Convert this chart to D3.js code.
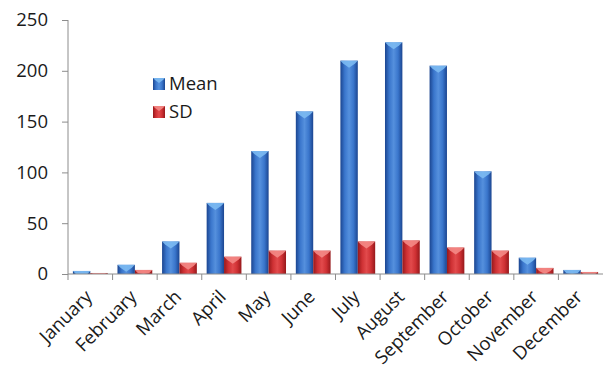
<!DOCTYPE html>
<html>
<head>
<meta charset="utf-8">
<script src="https://cdn.jsdelivr.net/npm/d3@7"></script>
<style>
  html, body { margin: 0; padding: 0; background: #fff; }
  svg { display: block; }
  text { font-family: "Open Sans", "Noto Sans", sans-serif; fill: #1a1a1a; }
</style>
</head>
<body>
<svg id="chart" width="605" height="370"></svg>
<script>
// Monthly mean and standard deviation
const months = ["January", "February", "March", "April", "May", "June",
                "July", "August", "September", "October", "November", "December"];
const meanValues = [3, 9, 32, 70, 121, 160, 210, 228, 205, 101, 16, 4];
const sdValues = [1, 4, 11, 17, 23, 23, 32, 33, 26, 23, 6, 2];
const seriesNames = ["Mean", "SD"];
const yTicks = [0, 50, 100, 150, 200, 250];

const svg = d3.select("#chart");
const margin = { left: 68, right: 2, top: 20, bottom: 96 };
const W = 605, H = 370;

const x = d3.scaleBand().domain(months)
  .range([margin.left, W - margin.right])
  .paddingInner(0.22).paddingOuter(0.11);
const xBand = d3.scaleBand().domain(months).range([margin.left, W - margin.right]);
const xSub = d3.scaleBand().domain(seriesNames).range([0, x.bandwidth()]);
const y = d3.scaleLinear().domain([0, 250]).range([H - margin.bottom, margin.top]);

// Gradients for a bevelled, cylindrical look
const defs = svg.append("defs");
const palettes = {
  Mean: { edge: "#1b4590", mid: "#3a76cc", light: "#5590dd", cap: "#7cbaf2" },
  SD:   { edge: "#96181b", mid: "#cf3134", light: "#e24a4c", cap: "#f48a86" }
};
Object.entries(palettes).forEach(([name, c]) => {
  const g = defs.append("linearGradient").attr("id", "grad-" + name)
    .attr("x1", "0").attr("x2", "1").attr("y1", "0").attr("y2", "0");
  g.append("stop").attr("offset", "0%").attr("stop-color", c.edge);
  g.append("stop").attr("offset", "25%").attr("stop-color", c.mid);
  g.append("stop").attr("offset", "50%").attr("stop-color", c.light);
  g.append("stop").attr("offset", "75%").attr("stop-color", c.mid);
  g.append("stop").attr("offset", "100%").attr("stop-color", c.edge);
});

const rows = months.map((m, i) => ({ month: m, Mean: meanValues[i], SD: sdValues[i] }));

function drawBar(sel, name, x0, w, v) {
  const top = y(v), bottom = y(0);
  const h = bottom - top;
  sel.append("rect").attr("x", x0).attr("y", top).attr("width", w).attr("height", h)
    .attr("fill", "url(#grad-" + name + ")");
  const capH = Math.min(7, h);
  const side = Math.min(3, h);
  const pts = [[x0, top], [x0 + w, top], [x0 + w - 3, top + side], [x0 + w / 2, top + capH], [x0 + 3, top + side]];
  sel.append("polygon").attr("points", pts.map(p => p.join(",")).join(" "))
    .attr("fill", palettes[name].cap).attr("opacity", 0.9);
}

const barsG = svg.append("g");
rows.forEach(r => {
  seriesNames.forEach(s => {
    drawBar(barsG, s, x(r.month) + xSub(s), xSub.bandwidth(), r[s]);
  });
});

// Axes
const axisColor = "#8c8c8c";
const yAxis = svg.append("g").attr("transform", `translate(${margin.left},0)`)
  .call(d3.axisLeft(y).tickValues(yTicks).tickSize(6).tickPadding(14));
yAxis.select(".domain").attr("stroke", axisColor).attr("d", `M0,${y(250)}V${y(0)}`);
yAxis.selectAll(".tick line").attr("stroke", axisColor);
yAxis.selectAll(".tick text").attr("font-size", 18.5).attr("fill", "#1a1a1a")
  .attr("font-family", "'Open Sans', sans-serif");

const xAxisG = svg.append("g").attr("transform", `translate(0,${y(0)})`);
xAxisG.append("line").attr("x1", margin.left).attr("x2", W - margin.right)
  .attr("y1", 0).attr("y2", 0).attr("stroke", axisColor);
xAxisG.selectAll("line.tk").data(months).enter().append("line").attr("class", "tk")
  .attr("x1", d => xBand(d)).attr("x2", d => xBand(d))
  .attr("y1", 0).attr("y2", 6).attr("stroke", axisColor);
xAxisG.selectAll("text.lbl").data(months).enter().append("text").attr("class", "lbl")
  .attr("transform", d => `translate(${xBand(d) + xBand.bandwidth() / 2 + 3},${24}) rotate(-45)`)
  .attr("text-anchor", "end").attr("font-size", 18.5)
  .text(d => d);

// Legend
const legend = svg.append("g");
seriesNames.forEach((s, i) => {
  const ly = 78 + i * 28;
  const lg = legend.append("g");
  lg.append("rect").attr("x", 153).attr("y", ly).attr("width", 12).attr("height", 12)
    .attr("fill", "url(#grad-" + s + ")");
  lg.append("polygon")
    .attr("points", `153,${ly} 165,${ly} 163,${ly + 2} 159,${ly + 5} 155,${ly + 2}`)
    .attr("fill", palettes[s].cap).attr("opacity", 0.9);
  lg.append("text").attr("x", 169).attr("y", ly + 12).attr("font-size", 18.5).text(s);
});
</script>
</body>
</html>
